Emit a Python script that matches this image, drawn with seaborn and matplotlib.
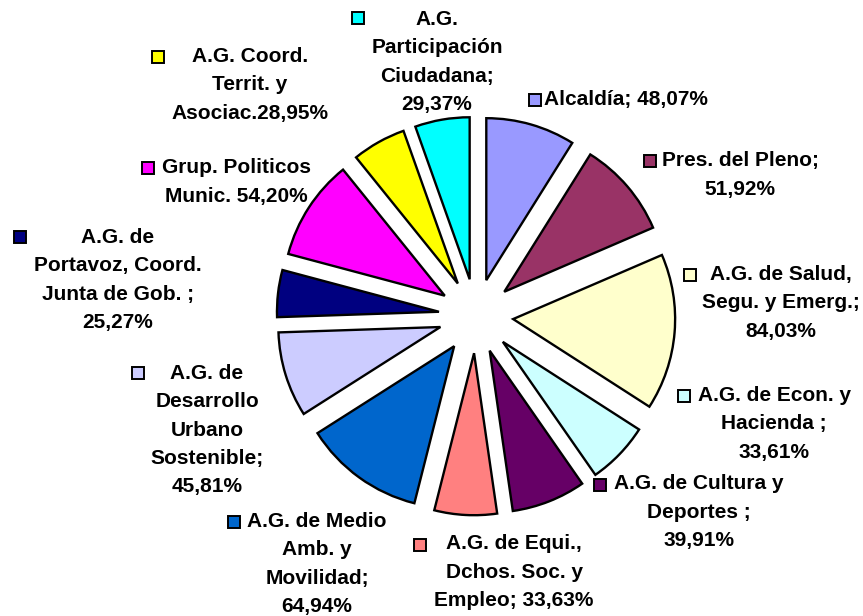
import matplotlib
matplotlib.use("Agg")
import matplotlib.pyplot as plt
import seaborn as sns

# Datos: porcentaje por area de gobierno
labels = [
    "Alcaldía; 48,07%",
    "Pres. del Pleno;\n51,92%",
    "A.G. de Salud,\nSegu. y Emerg.;\n84,03%",
    "A.G. de Econ. y\nHacienda ;\n33,61%",
    "A.G. de Cultura y\nDeportes ;\n39,91%",
    "A.G. de Equi.,\nDchos. Soc. y\nEmpleo; 33,63%",
    "A.G. de Medio\nAmb. y\nMovilidad;\n64,94%",
    "A.G. de\nDesarrollo\nUrbano\nSostenible;\n45,81%",
    "A.G. de\nPortavoz, Coord.\nJunta de Gob. ;\n25,27%",
    "Grup. Politicos\nMunic. 54,20%",
    "A.G. Coord.\nTerrit. y\nAsociac.28,95%",
    "A.G.\nParticipación\nCiudadana;\n29,37%",
]
values = [48.07, 51.92, 84.03, 33.61, 39.91, 33.63, 64.94, 45.81, 25.27, 54.20, 28.95, 29.37]
colors = ['#9999FF', '#993366', '#FFFFCC', '#CCFFFF', '#660066', '#FF8080',
          '#0066CC', '#CCCCFF', '#000080', '#FF00FF', '#FFFF00', '#00FFFF']

# Posicion de las etiquetas (pixeles): centro del texto y clave de color
text_pos = [(626, 100), (740, 175), (781, 303), (774, 424), (699, 512), (514, 572),
            (317, 564), (207, 430), (118, 280), (236, 182), (250, 85), (437, 62)]
key_pos = [(535, 100), (650, 161), (690, 275), (684, 396), (600, 485), (420, 545),
           (234, 522), (138, 373), (20, 237), (148, 168), (158, 57), (358, 18)]

W, H = 863, 616
CX, CY, R = 476, 316, 162

sns.set_theme(style="white")
plt.rcParams['font.family'] = ['Liberation Sans', 'DejaVu Sans']

fig = plt.figure(figsize=(W / 100, H / 100), dpi=100)
ax = fig.add_axes([0, 0, 1, 1])

ax.pie(values, colors=sns.color_palette(colors), startangle=90, counterclock=False,
       explode=[0.23] * len(values),
       wedgeprops=dict(edgecolor='black', linewidth=1.7))

ax.set_xlim(-CX / R, (W - CX) / R)
ax.set_ylim(-(H - CY) / R, CY / R)
ax.set_aspect('equal')
ax.axis('off')

for lab, (tx, ty), (kx, ky), col in zip(labels, text_pos, key_pos, colors):
    fig.text(tx / W, 1 - ty / H, lab, ha='center', va='center', ma='center',
             fontsize=15, fontweight='bold', linespacing=1.62, color='black')
    fig.lines.append(plt.Line2D([kx / W], [1 - ky / H], transform=fig.transFigure,
                                marker='s', markersize=8.5, markerfacecolor=col,
                                markeredgecolor='black', markeredgewidth=1.4,
                                linestyle='none'))

fig.savefig("out.png", dpi=100)
